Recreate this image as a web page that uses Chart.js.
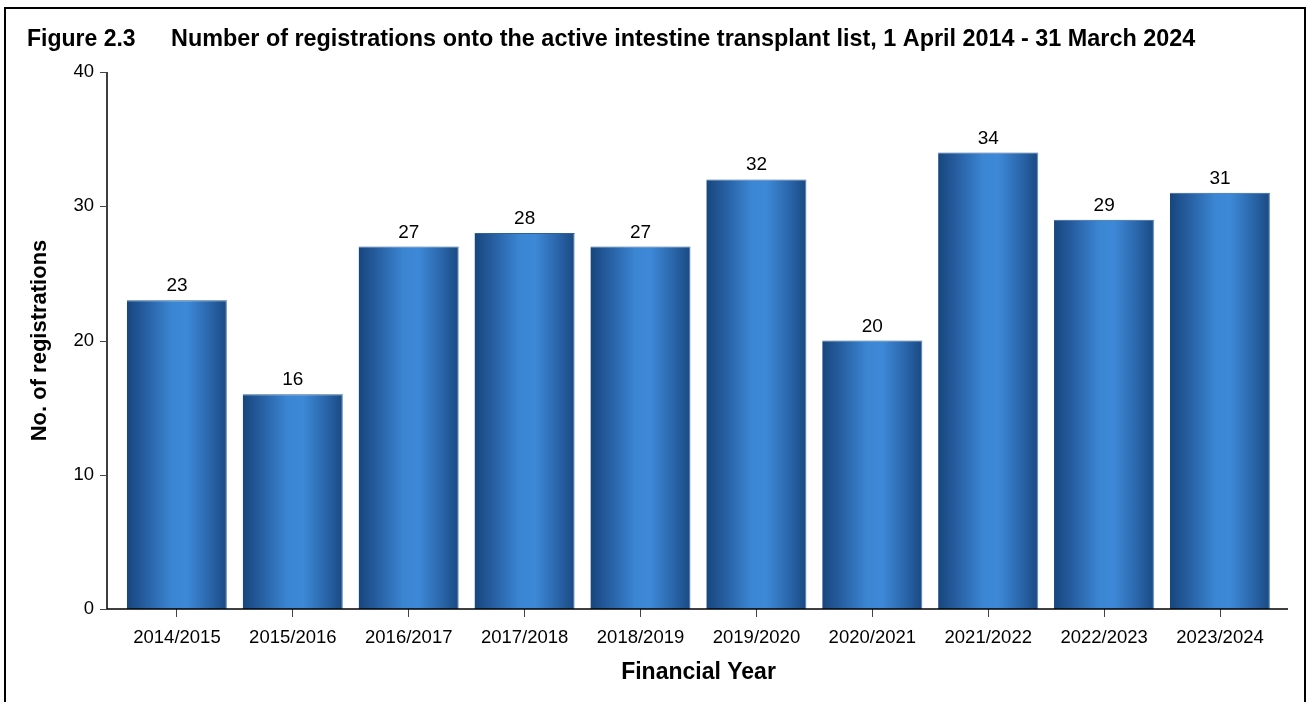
<!DOCTYPE html>
<html>
<head>
<meta charset="utf-8">
<script src="https://cdn.jsdelivr.net/npm/chart.js@4/dist/chart.umd.min.js"></script>
<style>
  html, body { margin: 0; padding: 0; background: #fff; }
  #wrap { width: 1307px; height: 702px; position: relative; }
</style>
</head>
<body>
<div id="wrap"><canvas id="chart"></canvas></div>
<script>
// Figure 2.3 - registrations onto the active intestine transplant list
const years = ['2014/2015', '2015/2016', '2016/2017', '2017/2018', '2018/2019',
               '2019/2020', '2020/2021', '2021/2022', '2022/2023', '2023/2024'];
const registrations = [23, 16, 27, 28, 27, 32, 20, 34, 29, 31];
const yTicks = [0, 10, 20, 30, 40];

const figureLabel = 'Figure 2.3';
const figureTitle = 'Number of registrations onto the active intestine transplant list, 1 April 2014 - 31 March 2024';

const FONT = '"Liberation Sans", Arial, sans-serif';
const BAR_PCT = 0.865;

// Horizontal shaded gradient for each bar
function barFill(ctx) {
    const chart = ctx.chart;
    const x = chart.scales.x;
    if (!x || !chart.chartArea) return '#2f6fb8';
    const cx = x.getPixelForValue(ctx.dataIndex);
    const half = (x.width / years.length) * BAR_PCT / 2;
    const g = chart.ctx.createLinearGradient(cx - half, 0, cx + half, 0);
    g.addColorStop(0, '#17467d');
    g.addColorStop(0.15, '#24599a');
    g.addColorStop(0.45, '#3b86d3');
    g.addColorStop(0.6, '#3d89d7');
    g.addColorStop(0.85, '#2862a6');
    g.addColorStop(0.98, '#1b4c86');
    g.addColorStop(1, '#a9c0dd');
    return g;
}

// Frame, title, axis lines and value labels
const decorations = {
    id: 'decorations',
    beforeDraw(chart) {
        const c = chart.ctx;
        c.save();
        c.fillStyle = '#fff';
        c.fillRect(0, 0, chart.width, chart.height);
        c.strokeStyle = '#000';
        c.lineWidth = 2;
        c.beginPath();
        c.moveTo(5, 710);
        c.lineTo(5, 8);
        c.lineTo(1305, 8);
        c.lineTo(1305, 710);
        c.stroke();
        c.fillStyle = '#000';
        c.textBaseline = 'alphabetic';
        c.textAlign = 'left';
        c.font = 'bold 23px ' + FONT;
        c.fillText(figureLabel, 27, 46);
        c.font = 'bold 23.4px ' + FONT;
        c.fillText(figureTitle, 171, 46);
        c.restore();
    },
    afterDatasetsDraw(chart) {
        const c = chart.ctx;
        const y = chart.scales.y;
        const y0 = y.getPixelForValue(0);
        const yTop = y.getPixelForValue(40);
        c.save();
        // axis lines
        c.strokeStyle = '#000';
        c.lineWidth = 1.5;
        c.beginPath();
        c.moveTo(107, yTop);
        c.lineTo(107, y0);
        c.lineTo(1288, y0);
        c.stroke();
        // y tick marks
        c.strokeStyle = '#444';
        c.lineWidth = 1;
        yTicks.forEach(v => {
            const py = Math.round(y.getPixelForValue(v)) + 0.5;
            c.beginPath();
            c.moveTo(100, py);
            c.lineTo(107, py);
            c.stroke();
        });
        // value labels above bars
        c.fillStyle = '#000';
        c.font = '19px ' + FONT;
        c.textAlign = 'center';
        c.textBaseline = 'alphabetic';
        chart.getDatasetMeta(0).data.forEach((bar, i) => {
            c.fillText(String(registrations[i]), bar.x, bar.y - 9);
        });
        c.restore();
    }
};

new Chart(document.getElementById('chart'), {
    type: 'bar',
    data: {
        labels: years,
        datasets: [{
            data: registrations,
            backgroundColor: barFill,
            borderColor: '#2c5f9c',
            borderWidth: { top: 1, left: 0, right: 0, bottom: 0 },
            borderSkipped: 'bottom',
            barPercentage: BAR_PCT,
            categoryPercentage: 1
        }]
    },
    options: {
        responsive: true,
        maintainAspectRatio: false,
        animation: false,
        layout: { padding: { top: 72, right: 29, left: 0, bottom: 0 } },
        plugins: {
            legend: { display: false },
            tooltip: { enabled: false },
            title: { display: false }
        },
        scales: {
            x: {
                afterFit(scale) { scale.height = 93; },
                border: { display: false },
                grid: {
                    display: true,
                    drawOnChartArea: false,
                    drawTicks: true,
                    tickLength: 8,
                    offset: false,
                    color: '#444'
                },
                ticks: {
                    color: '#000',
                    font: { family: FONT, size: 18.5 },
                    padding: 10,
                    maxRotation: 0,
                    autoSkip: false
                },
                title: {
                    display: true,
                    text: 'Financial Year',
                    color: '#000',
                    font: { family: FONT, size: 23, weight: 'bold' },
                    padding: { top: 0, bottom: 16 }
                }
            },
            y: {
                min: 0,
                max: 40,
                afterFit(scale) { scale.width = 119; },
                afterBuildTicks(scale) { scale.ticks = yTicks.map(v => ({ value: v })); },
                border: { display: false },
                grid: { display: false, drawTicks: false },
                ticks: {
                    color: '#000',
                    font: { family: FONT, size: 18.5 },
                    padding: 25
                },
                title: {
                    display: true,
                    text: 'No. of registrations',
                    color: '#000',
                    font: { family: FONT, size: 22, weight: 'bold' },
                    padding: { top: 27, bottom: 0 }
                }
            }
        }
    },
    plugins: [decorations]
});
</script>
</body>
</html>
